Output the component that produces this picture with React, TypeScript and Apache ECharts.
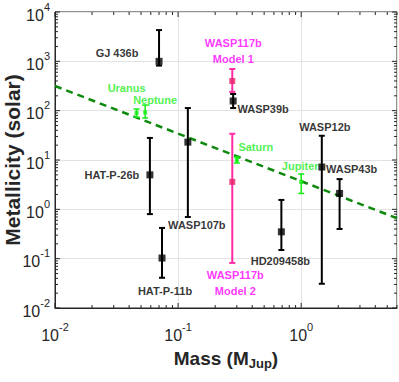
import React, { useEffect, useRef } from "react";
import * as echarts from "echarts";

// ---- data ----
const planetNames = ["GJ 436b", "HAT-P-26b", "WASP107b", "HAT-P-11b", "WASP39b", "HD209458b", "WASP12b", "WASP43b"];
const planetMass = [0.07, 0.059, 0.12, 0.074, 0.28, 0.69, 1.47, 2.05];
const planetZ = [1000, 5.0, 23, 0.103, 157, 0.35, 7.2, 2.1];
const planetZLow = [820, 0.8, 0.7, 0.041, 113, 0.15, 0.031, 0.4];
const planetZHigh = [4300, 28, 113, 0.42, 218, 1.55, 31, 4.1];

const solarNames = ["Uranus", "Neptune", "Saturn", "Jupiter"];
const solarMass = [0.046, 0.054, 0.3, 1.0];
const solarZ = [90, 92, 10, 3.6];
const solarZLow = [74, 71, 8.7, 2.1];
const solarZHigh = [108, 130, 11.5, 5.2];

const w117Names = ["WASP117b\nModel 1", "WASP117b\nModel 2"];
const w117Mass = [0.2755, 0.2755];
const w117Z = [400, 3.6];
const w117ZLow = [240, 0.082];
const w117ZHigh = [700, 34];

const trendMass = [0.01, 6];
const trendZ = [316, 0.66];

const xDecades = [-2, -1, 0];
const yDecades = [-2, -1, 0, 1, 2, 3];
const tickMultipliers = [1, 2, 3, 4, 5, 6, 7, 8, 9];

// ---- label offsets (style) ----
const planetLabelOffsets = [[-42, -8], [-38, 0], [9, 83], [3, 33], [30, 8], [-1, 29], [3, -40], [12, -24]];
const solarLabelOffsets = [[-10, -25], [10, -12], [19, -13], [-1, -16]];
const w117LabelOffsets = [[1, -30], [3, 101]];

const X_MIN = 0.01, X_MAX = 6, Y_MIN = 0.01, Y_MAX = 10000;
const xTickVals: number[] = [];
xDecades.forEach((d) => tickMultipliers.forEach((m) => { const v = m * Math.pow(10, d); if (v <= X_MAX + 1e-9) xTickVals.push(v); }));
const yTickVals: number[] = [];
yDecades.forEach((d) => tickMultipliers.forEach((m) => yTickVals.push(m * Math.pow(10, d))));
yTickVals.push(Y_MAX);

const SANS = "'Liberation Sans', Arial, sans-serif";
const AXIS_COLOR = "#262626";

function powLabel(v: number) {
  const l = Math.log10(v);
  const e = Math.round(l);
  if (Math.abs(l - e) > 1e-6) return "";
  return `{b|10}{s|${e}}`;
}
const powRich = {
  b: { fontSize: 16, fontFamily: SANS, color: AXIS_COLOR, padding: [6, 0, 0, 0] },
  s: { fontSize: 11, fontFamily: SANS, color: AXIS_COLOR, verticalAlign: "top" },
};

function errorBarSeries(name: string, mass: number[], lo: number[], hi: number[], color: string, lw: number, cap: number) {
  return {
    type: "custom",
    name,
    data: mass.map((m, i) => [m, lo[i], hi[i]]),
    encode: { x: 0, y: [1, 2] },
    z: 3,
    renderItem: (_p: any, api: any) => {
      const x = api.value(0);
      const a = api.coord([x, api.value(1)]);
      const b = api.coord([x, api.value(2)]);
      const st = { stroke: color, lineWidth: lw };
      return {
        type: "group",
        children: [
          { type: "line", shape: { x1: a[0], y1: a[1], x2: b[0], y2: b[1] }, style: st },
          { type: "line", shape: { x1: a[0] - cap, y1: a[1], x2: a[0] + cap, y2: a[1] }, style: st },
          { type: "line", shape: { x1: b[0] - cap, y1: b[1], x2: b[0] + cap, y2: b[1] }, style: st },
        ],
      };
    },
  };
}

function scatterSeries(name: string, names: string[], mass: number[], z: number[], offsets: number[][], symColor: string, size: number, textColor: string) {
  return {
    type: "scatter",
    name,
    symbol: "rect",
    symbolSize: size,
    itemStyle: { color: symColor },
    z: 4,
    data: mass.map((m, i) => ({
      value: [m, z[i]],
      label: {
        show: true,
        formatter: names[i],
        position: "inside",
        offset: offsets[i],
        color: textColor,
        fontFamily: SANS,
        fontWeight: "bold",
        fontSize: 11,
        lineHeight: 16,
        align: "center",
        verticalAlign: "middle",
      },
    })),
  };
}

export default function App() {
  const ref = useRef<HTMLDivElement>(null);
  useEffect(() => {
    if (!ref.current) return;
    const chart = echarts.init(ref.current, undefined, { renderer: "svg" });
    const tickLine = { stroke: AXIS_COLOR, lineWidth: 1 };
    chart.setOption({
      animation: false,
      backgroundColor: "#ffffff",
      grid: { left: 55, right: 2, top: 12, bottom: 74, show: true, borderColor: AXIS_COLOR, borderWidth: 1, containLabel: false, outerBoundsMode: "none" },
      xAxis: {
        type: "log",
        logBase: 10,
        min: X_MIN,
        max: X_MAX,
        interval: 1,
        name: "{m|Mass (M}{j|Jup}{m|)}",
        nameLocation: "middle",
        nameGap: 39,
        nameMoveOverlap: false,
        nameTextStyle: {
          rich: {
            m: { fontSize: 19, fontWeight: "bold", fontFamily: SANS, color: AXIS_COLOR },
            j: { fontSize: 13, fontWeight: "bold", fontFamily: SANS, color: AXIS_COLOR, verticalAlign: "bottom", padding: [10, 0, 0, 0] },
          },
        },
        axisLine: { show: true, lineStyle: { color: AXIS_COLOR } },
        axisTick: { show: false },
        axisLabel: { formatter: powLabel, rich: powRich, margin: 13 },
        splitLine: { show: true, lineStyle: { color: "#e3e3e3", width: 1 } },
      },
      yAxis: {
        type: "log",
        logBase: 10,
        min: Y_MIN,
        max: Y_MAX,
        interval: 1,
        name: "Metallicity (solar)",
        nameLocation: "middle",
        nameGap: 32,
        nameMoveOverlap: false,
        nameTextStyle: { fontSize: 21, lineHeight: 22, fontWeight: "bold", fontFamily: SANS, color: AXIS_COLOR },
        axisLine: { show: true, lineStyle: { color: AXIS_COLOR } },
        axisTick: { show: false },
        axisLabel: { formatter: powLabel, rich: powRich, margin: 5 },
        splitLine: { show: true, lineStyle: { color: "#e3e3e3", width: 1 } },
      },
      series: [
        {
          type: "line",
          name: "trend",
          data: trendMass.map((m, i) => [m, trendZ[i]]),
          symbol: "none",
          z: 2,
          lineStyle: { color: "#0d8a0d", width: 2.5, type: [7, 5] },
        },
        {
          type: "custom",
          name: "xticks",
          data: xTickVals.map((v) => [v, 1]),
          z: 1,
          silent: true,
          renderItem: (params: any, api: any) => {
            const v = api.value(0);
            const cs = params.coordSys;
            const x = api.coord([v, 1])[0];
            const major = Math.abs(Math.log10(v) - Math.round(Math.log10(v))) < 1e-6;
            const len = major ? 5 : 3;
            const bottom = cs.y + cs.height;
            return {
              type: "group",
              children: [
                { type: "line", shape: { x1: x, y1: bottom, x2: x, y2: bottom - len }, style: tickLine },
                { type: "line", shape: { x1: x, y1: cs.y, x2: x, y2: cs.y + len }, style: tickLine },
              ],
            };
          },
        },
        {
          type: "custom",
          name: "yticks",
          data: yTickVals.map((v) => [1, v]),
          z: 1,
          silent: true,
          renderItem: (params: any, api: any) => {
            const v = api.value(1);
            const cs = params.coordSys;
            const y = api.coord([1, v])[1];
            const major = Math.abs(Math.log10(v) - Math.round(Math.log10(v))) < 1e-6;
            const len = major ? 5 : 3;
            const right = cs.x + cs.width;
            return {
              type: "group",
              children: [
                { type: "line", shape: { x1: cs.x, y1: y, x2: cs.x + len, y2: y }, style: tickLine },
                { type: "line", shape: { x1: right, y1: y, x2: right - len, y2: y }, style: tickLine },
              ],
            };
          },
        },
        errorBarSeries("solarErr", solarMass, solarZLow, solarZHigh, "#11ee11", 1.5, 3),
        errorBarSeries("w117Err", w117Mass, w117ZLow, w117ZHigh, "#ff2ca6", 2, 3),
        errorBarSeries("planetErr", planetMass, planetZLow, planetZHigh, "#000000", 2, 3),
        scatterSeries("solar", solarNames, solarMass, solarZ, solarLabelOffsets, "#11ee11", 4, "#22ee22"),
        scatterSeries("w117", w117Names, w117Mass, w117Z, w117LabelOffsets, "#e8206a", 6, "#ff00ff"),
        scatterSeries("planets", planetNames, planetMass, planetZ, planetLabelOffsets, "#000000", 7, "#000000"),
      ],
    });
    return () => chart.dispose();
  }, []);
  return <div ref={ref} style={{ position: "absolute", left: 0, top: 0, width: 399, height: 382 }} />;
}
